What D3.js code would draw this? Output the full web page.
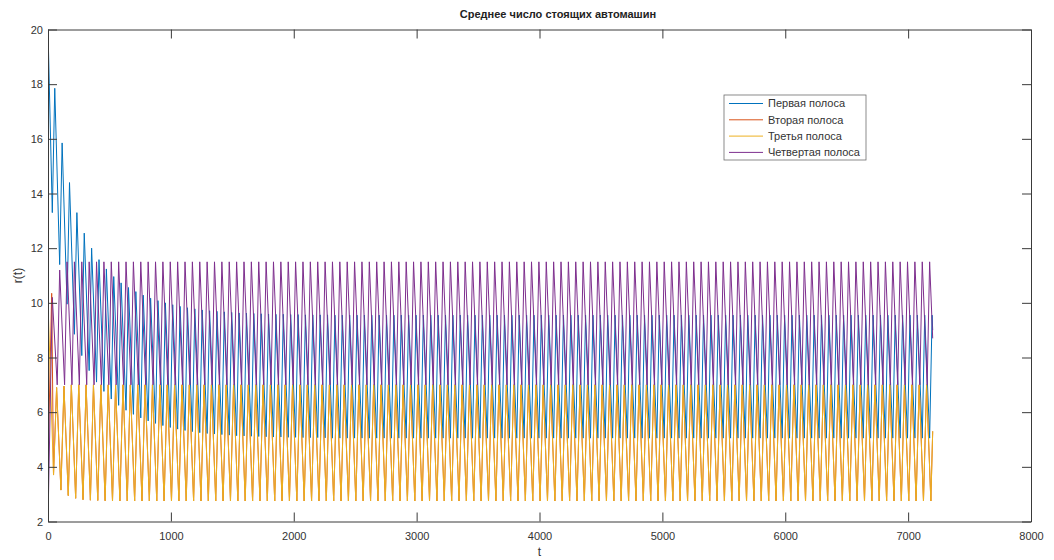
<!DOCTYPE html>
<html>
<head>
<meta charset="utf-8">
<script src="https://cdn.jsdelivr.net/npm/d3@7"></script>
<style>
  html, body { margin: 0; padding: 0; background: #ffffff; }
  svg { display: block; font-family: "Liberation Sans", Arial, Helvetica, sans-serif; }
</style>
</head>
<body>
<svg id="chart" width="1054" height="560"></svg>
<script>
// Queue length r(t) for four lanes of a signalised junction, 60 s signal cycle.
// Each lane is stored as its turning points: the value at t = 0, one low/high
// value per cycle, and the value at the end of the run (t = 7200 s).

const laneNames = ["Первая полоса", "Вторая полоса", "Третья полоса", "Четвертая полоса"];
const laneColors = ["#0072BD", "#D95319", "#EDB120", "#7E2F8E"];
const xTicks = [0, 1000, 2000, 3000, 4000, 5000, 6000, 7000, 8000];
const yTicks = [2, 4, 6, 8, 10, 12, 14, 16, 18, 20];

// Lane 1: minima at 35 + 60k s, maxima at 55 + 60k s
const blueStart = 20.0;
const blueLow = [
  13.30, 11.40, 9.95, 8.85, 8.07, 7.52, 7.10, 6.76, 6.48, 6.25,
  6.07, 5.92, 5.79, 5.68, 5.59, 5.51, 5.44, 5.38, 5.33, 5.29,
  5.25, 5.22, 5.20, 5.18, 5.16, 5.14, 5.13, 5.12, 5.11, 5.10,
  5.09, 5.09, 5.08, 5.08, 5.07, 5.07, 5.07, 5.06, 5.05, 5.05,
  5.05, 5.05, 5.05, 5.05, 5.05, 5.05, 5.05, 5.05, 5.05, 5.05,
  5.05, 5.05, 5.05, 5.05, 5.05, 5.05, 5.05, 5.05, 5.05, 5.05,
  5.05, 5.05, 5.05, 5.05, 5.05, 5.05, 5.05, 5.05, 5.05, 5.05,
  5.05, 5.05, 5.05, 5.05, 5.05, 5.05, 5.05, 5.05, 5.05, 5.05,
  5.05, 5.05, 5.05, 5.05, 5.05, 5.05, 5.05, 5.05, 5.05, 5.05,
  5.05, 5.05, 5.05, 5.05, 5.05, 5.05, 5.05, 5.05, 5.05, 5.05,
  5.05, 5.05, 5.05, 5.05, 5.05, 5.05, 5.05, 5.05, 5.05, 5.05,
  5.05, 5.05, 5.05, 5.05, 5.05, 5.05, 5.05, 5.05, 5.05, 5.05
];
const blueHigh = [
  17.85, 15.85, 14.40, 13.30, 12.55, 12.00, 11.58, 11.24, 10.96, 10.73,
  10.56, 10.41, 10.28, 10.17, 10.08, 10.00, 9.93, 9.87, 9.82, 9.78,
  9.74, 9.71, 9.69, 9.67, 9.65, 9.63, 9.62, 9.61, 9.60, 9.59,
  9.58, 9.58, 9.57, 9.57, 9.56, 9.56, 9.56, 9.56, 9.55, 9.55,
  9.55, 9.55, 9.55, 9.55, 9.55, 9.55, 9.55, 9.55, 9.55, 9.55,
  9.55, 9.55, 9.55, 9.55, 9.55, 9.55, 9.55, 9.55, 9.55, 9.55,
  9.55, 9.55, 9.55, 9.55, 9.55, 9.55, 9.55, 9.55, 9.55, 9.55,
  9.55, 9.55, 9.55, 9.55, 9.55, 9.55, 9.55, 9.55, 9.55, 9.55,
  9.55, 9.55, 9.55, 9.55, 9.55, 9.55, 9.55, 9.55, 9.55, 9.55,
  9.55, 9.55, 9.55, 9.55, 9.55, 9.55, 9.55, 9.55, 9.55, 9.55,
  9.55, 9.55, 9.55, 9.55, 9.55, 9.55, 9.55, 9.55, 9.55, 9.55,
  9.55, 9.55, 9.55, 9.55, 9.55, 9.55, 9.55, 9.55, 9.55, 9.55
];
const blueEnd = 9.0;

// Lane 2: rises over the first 30 s, then follows the lane 3 cycle
const orangeStart = [4.0, 10.35];
const orangeLow = [
  3.70, 3.15, 2.95, 2.85, 2.80, 2.78, 2.77, 2.76, 2.75, 2.75,
  2.75, 2.75, 2.75, 2.75, 2.75, 2.75, 2.75, 2.75, 2.75, 2.75,
  2.75, 2.75, 2.75, 2.75, 2.75, 2.75, 2.75, 2.75, 2.75, 2.75,
  2.75, 2.75, 2.75, 2.75, 2.75, 2.75, 2.75, 2.75, 2.75, 2.75,
  2.75, 2.75, 2.75, 2.75, 2.75, 2.75, 2.75, 2.75, 2.75, 2.75,
  2.75, 2.75, 2.75, 2.75, 2.75, 2.75, 2.75, 2.75, 2.75, 2.75,
  2.75, 2.75, 2.75, 2.75, 2.75, 2.75, 2.75, 2.75, 2.75, 2.75,
  2.75, 2.75, 2.75, 2.75, 2.75, 2.75, 2.75, 2.75, 2.75, 2.75,
  2.75, 2.75, 2.75, 2.75, 2.75, 2.75, 2.75, 2.75, 2.75, 2.75,
  2.75, 2.75, 2.75, 2.75, 2.75, 2.75, 2.75, 2.75, 2.75, 2.75,
  2.75, 2.75, 2.75, 2.75, 2.75, 2.75, 2.75, 2.75, 2.75, 2.75,
  2.75, 2.75, 2.75, 2.75, 2.75, 2.75, 2.75, 2.75, 2.75, 2.75
];
const orangeHigh = [
  6.90, 6.95, 7.00, 7.00, 7.00, 7.00, 7.00, 7.00, 7.00, 7.00,
  7.00, 7.00, 7.00, 7.00, 7.00, 7.00, 7.00, 7.00, 7.00, 7.00,
  7.00, 7.00, 7.00, 7.00, 7.00, 7.00, 7.00, 7.00, 7.00, 7.00,
  7.00, 7.00, 7.00, 7.00, 7.00, 7.00, 7.00, 7.00, 7.00, 7.00,
  7.00, 7.00, 7.00, 7.00, 7.00, 7.00, 7.00, 7.00, 7.00, 7.00,
  7.00, 7.00, 7.00, 7.00, 7.00, 7.00, 7.00, 7.00, 7.00, 7.00,
  7.00, 7.00, 7.00, 7.00, 7.00, 7.00, 7.00, 7.00, 7.00, 7.00,
  7.00, 7.00, 7.00, 7.00, 7.00, 7.00, 7.00, 7.00, 7.00, 7.00,
  7.00, 7.00, 7.00, 7.00, 7.00, 7.00, 7.00, 7.00, 7.00, 7.00,
  7.00, 7.00, 7.00, 7.00, 7.00, 7.00, 7.00, 7.00, 7.00, 7.00,
  7.00, 7.00, 7.00, 7.00, 7.00, 7.00, 7.00, 7.00, 7.00, 7.00,
  7.00, 7.00, 7.00, 7.00, 7.00, 7.00, 7.00, 7.00, 7.00
];
const orangeEnd = 5.3;

// Lane 3: minima at 45 + 60k s, maxima at 70 + 60k s
const yellowStart = 10.0;
const yellowLow = [
  3.70, 3.15, 2.95, 2.85, 2.80, 2.78, 2.77, 2.76, 2.75, 2.75,
  2.75, 2.75, 2.75, 2.75, 2.75, 2.75, 2.75, 2.75, 2.75, 2.75,
  2.75, 2.75, 2.75, 2.75, 2.75, 2.75, 2.75, 2.75, 2.75, 2.75,
  2.75, 2.75, 2.75, 2.75, 2.75, 2.75, 2.75, 2.75, 2.75, 2.75,
  2.75, 2.75, 2.75, 2.75, 2.75, 2.75, 2.75, 2.75, 2.75, 2.75,
  2.75, 2.75, 2.75, 2.75, 2.75, 2.75, 2.75, 2.75, 2.75, 2.75,
  2.75, 2.75, 2.75, 2.75, 2.75, 2.75, 2.75, 2.75, 2.75, 2.75,
  2.75, 2.75, 2.75, 2.75, 2.75, 2.75, 2.75, 2.75, 2.75, 2.75,
  2.75, 2.75, 2.75, 2.75, 2.75, 2.75, 2.75, 2.75, 2.75, 2.75,
  2.75, 2.75, 2.75, 2.75, 2.75, 2.75, 2.75, 2.75, 2.75, 2.75,
  2.75, 2.75, 2.75, 2.75, 2.75, 2.75, 2.75, 2.75, 2.75, 2.75,
  2.75, 2.75, 2.75, 2.75, 2.75, 2.75, 2.75, 2.75, 2.75, 2.75
];
const yellowHigh = [
  6.90, 6.95, 7.00, 7.00, 7.00, 7.00, 7.00, 7.00, 7.00, 7.00,
  7.00, 7.00, 7.00, 7.00, 7.00, 7.00, 7.00, 7.00, 7.00, 7.00,
  7.00, 7.00, 7.00, 7.00, 7.00, 7.00, 7.00, 7.00, 7.00, 7.00,
  7.00, 7.00, 7.00, 7.00, 7.00, 7.00, 7.00, 7.00, 7.00, 7.00,
  7.00, 7.00, 7.00, 7.00, 7.00, 7.00, 7.00, 7.00, 7.00, 7.00,
  7.00, 7.00, 7.00, 7.00, 7.00, 7.00, 7.00, 7.00, 7.00, 7.00,
  7.00, 7.00, 7.00, 7.00, 7.00, 7.00, 7.00, 7.00, 7.00, 7.00,
  7.00, 7.00, 7.00, 7.00, 7.00, 7.00, 7.00, 7.00, 7.00, 7.00,
  7.00, 7.00, 7.00, 7.00, 7.00, 7.00, 7.00, 7.00, 7.00, 7.00,
  7.00, 7.00, 7.00, 7.00, 7.00, 7.00, 7.00, 7.00, 7.00, 7.00,
  7.00, 7.00, 7.00, 7.00, 7.00, 7.00, 7.00, 7.00, 7.00, 7.00,
  7.00, 7.00, 7.00, 7.00, 7.00, 7.00, 7.00, 7.00, 7.00
];
const yellowEnd = 5.3;

// Lane 4: maxima at 35 + 60k s, minima at 75 + 60k s
const purpleStart = 2.0;
const purpleHigh = [
  10.20, 11.20, 11.50, 11.50, 11.50, 11.50, 11.50, 11.50, 11.50, 11.50,
  11.50, 11.50, 11.50, 11.50, 11.50, 11.50, 11.50, 11.50, 11.50, 11.50,
  11.50, 11.50, 11.50, 11.50, 11.50, 11.50, 11.50, 11.50, 11.50, 11.50,
  11.50, 11.50, 11.50, 11.50, 11.50, 11.50, 11.50, 11.50, 11.50, 11.50,
  11.50, 11.50, 11.50, 11.50, 11.50, 11.50, 11.50, 11.50, 11.50, 11.50,
  11.50, 11.50, 11.50, 11.50, 11.50, 11.50, 11.50, 11.50, 11.50, 11.50,
  11.50, 11.50, 11.50, 11.50, 11.50, 11.50, 11.50, 11.50, 11.50, 11.50,
  11.50, 11.50, 11.50, 11.50, 11.50, 11.50, 11.50, 11.50, 11.50, 11.50,
  11.50, 11.50, 11.50, 11.50, 11.50, 11.50, 11.50, 11.50, 11.50, 11.50,
  11.50, 11.50, 11.50, 11.50, 11.50, 11.50, 11.50, 11.50, 11.50, 11.50,
  11.50, 11.50, 11.50, 11.50, 11.50, 11.50, 11.50, 11.50, 11.50, 11.50,
  11.50, 11.50, 11.50, 11.50, 11.50, 11.50, 11.50, 11.50, 11.50, 11.50
];
const purpleLow = [
  7.00, 7.00, 7.00, 7.00, 7.00, 7.00, 7.00, 7.00, 7.00, 7.00,
  7.00, 7.00, 7.00, 7.00, 7.00, 7.00, 7.00, 7.00, 7.00, 7.00,
  7.00, 7.00, 7.00, 7.00, 7.00, 7.00, 7.00, 7.00, 7.00, 7.00,
  7.00, 7.00, 7.00, 7.00, 7.00, 7.00, 7.00, 7.00, 7.00, 7.00,
  7.00, 7.00, 7.00, 7.00, 7.00, 7.00, 7.00, 7.00, 7.00, 7.00,
  7.00, 7.00, 7.00, 7.00, 7.00, 7.00, 7.00, 7.00, 7.00, 7.00,
  7.00, 7.00, 7.00, 7.00, 7.00, 7.00, 7.00, 7.00, 7.00, 7.00,
  7.00, 7.00, 7.00, 7.00, 7.00, 7.00, 7.00, 7.00, 7.00, 7.00,
  7.00, 7.00, 7.00, 7.00, 7.00, 7.00, 7.00, 7.00, 7.00, 7.00,
  7.00, 7.00, 7.00, 7.00, 7.00, 7.00, 7.00, 7.00, 7.00, 7.00,
  7.00, 7.00, 7.00, 7.00, 7.00, 7.00, 7.00, 7.00, 7.00, 7.00,
  7.00, 7.00, 7.00, 7.00, 7.00, 7.00, 7.00, 7.00, 7.00
];
const purpleEnd = 8.7;

const CYCLE = 60;      // signal cycle length, s
const T_END = 7200;    // end of the simulated run, s

// Turning-point times: first extreme at `first`, the opposite one `gap` seconds later.
function buildLane(lead, first, gap, a, b, endValue) {
  const pts = lead.slice();
  for (let k = 0; k < a.length; k++) {
    const ta = first + CYCLE * k;
    if (ta < T_END) pts.push([ta, a[k]]);
    const tb = ta + gap;
    if (k < b.length && tb < T_END) pts.push([tb, b[k]]);
  }
  pts.push([T_END, endValue]);
  return pts;
}

const lanes = [
  buildLane([[0, blueStart]], 35, 20, blueLow, blueHigh, blueEnd),
  buildLane([[0, orangeStart[0]], [30, orangeStart[1]]], 45, 25, orangeLow, orangeHigh, orangeEnd),
  buildLane([[0, yellowStart]], 45, 25, yellowLow, yellowHigh, yellowEnd),
  buildLane([[0, purpleStart]], 35, 40, purpleHigh, purpleLow, purpleEnd)
];

// ---- layout ----
const svg = d3.select("#chart");
const plot = { left: 48, right: 1031, top: 29.5, bottom: 521.5 };
const axisColor = "#3a3a3a";
const textColor = "#333333";
const tickLen = 9;

const x = d3.scaleLinear().domain([0, 8000]).range([plot.left, plot.right]);
const y = d3.scaleLinear().domain([2, 20]).range([plot.bottom, plot.top]);

svg.append("rect").attr("width", 1054).attr("height", 560).attr("fill", "#ffffff");

svg.append("defs").append("clipPath").attr("id", "plotClip")
  .append("rect")
  .attr("x", plot.left).attr("y", plot.top)
  .attr("width", plot.right - plot.left).attr("height", plot.bottom - plot.top);

// ---- data lines ----
const line = d3.line().x(d => x(d[0])).y(d => y(d[1]));
const lineLayer = svg.append("g").attr("clip-path", "url(#plotClip)");
lanes.forEach((pts, i) => {
  lineLayer.append("path")
    .datum(pts)
    .attr("fill", "none")
    .attr("stroke", laneColors[i])
    .attr("stroke-width", 1)
    .attr("stroke-linejoin", "round")
    .attr("d", line);
});

// ---- axes (ticks point inward, box on all four sides) ----
function styleAxis(g) {
  g.select(".domain").attr("stroke", axisColor).attr("stroke-width", 1);
  g.selectAll(".tick line").attr("stroke", axisColor).attr("stroke-width", 1);
  g.selectAll(".tick text").attr("fill", textColor)
    .attr("font-size", 11)
    .attr("font-family", "'Liberation Sans', Arial, Helvetica, sans-serif");
}

const xBottom = svg.append("g").attr("transform", `translate(0,${plot.bottom})`)
  .call(d3.axisBottom(x).tickValues(xTicks).tickFormat(d3.format("d"))
    .tickSizeInner(-tickLen).tickSizeOuter(0).tickPadding(6));
styleAxis(xBottom);
xBottom.selectAll(".tick text").attr("dy", "0.95em").attr("y", 8);

const xTop = svg.append("g").attr("transform", `translate(0,${plot.top})`)
  .call(d3.axisTop(x).tickValues(xTicks).tickFormat("")
    .tickSizeInner(-tickLen).tickSizeOuter(0));
styleAxis(xTop);

const yLeft = svg.append("g").attr("transform", `translate(${plot.left},0)`)
  .call(d3.axisLeft(y).tickValues(yTicks).tickFormat(d3.format("d"))
    .tickSizeInner(-tickLen).tickSizeOuter(0));
styleAxis(yLeft);
yLeft.selectAll(".tick text").attr("x", -5);

const yRight = svg.append("g").attr("transform", `translate(${plot.right},0)`)
  .call(d3.axisRight(y).tickValues(yTicks).tickFormat("")
    .tickSizeInner(-tickLen).tickSizeOuter(0));
styleAxis(yRight);

// ---- labels ----
svg.append("text")
  .attr("x", 558).attr("y", 18)
  .attr("text-anchor", "middle")
  .attr("font-size", 11).attr("font-weight", "bold")
  .attr("fill", "#222")
  .text("Среднее число стоящих автомашин");

svg.append("text")
  .attr("x", (plot.left + plot.right) / 2).attr("y", 556)
  .attr("text-anchor", "middle")
  .attr("font-size", 12).attr("fill", textColor)
  .text("t");

svg.append("text")
  .attr("transform", `translate(22,${(plot.top + plot.bottom) / 2}) rotate(-90)`)
  .attr("text-anchor", "middle")
  .attr("font-size", 12).attr("fill", textColor)
  .text("r(t)");

// ---- legend ----
const legend = svg.append("g").attr("transform", "translate(724,95)");
legend.append("rect")
  .attr("width", 142).attr("height", 65)
  .attr("fill", "#ffffff").attr("stroke", "#6e6e6e").attr("stroke-width", 0.8);
laneNames.forEach((name, i) => {
  const cy = 8.5 + i * 16.3;
  legend.append("line")
    .attr("x1", 5).attr("x2", 39).attr("y1", cy).attr("y2", cy)
    .attr("stroke", laneColors[i]).attr("stroke-width", 1);
  legend.append("text")
    .attr("x", 44).attr("y", cy).attr("dy", "0.35em")
    .attr("font-size", 11).attr("fill", textColor)
    .text(name);
});
</script>
</body>
</html>
